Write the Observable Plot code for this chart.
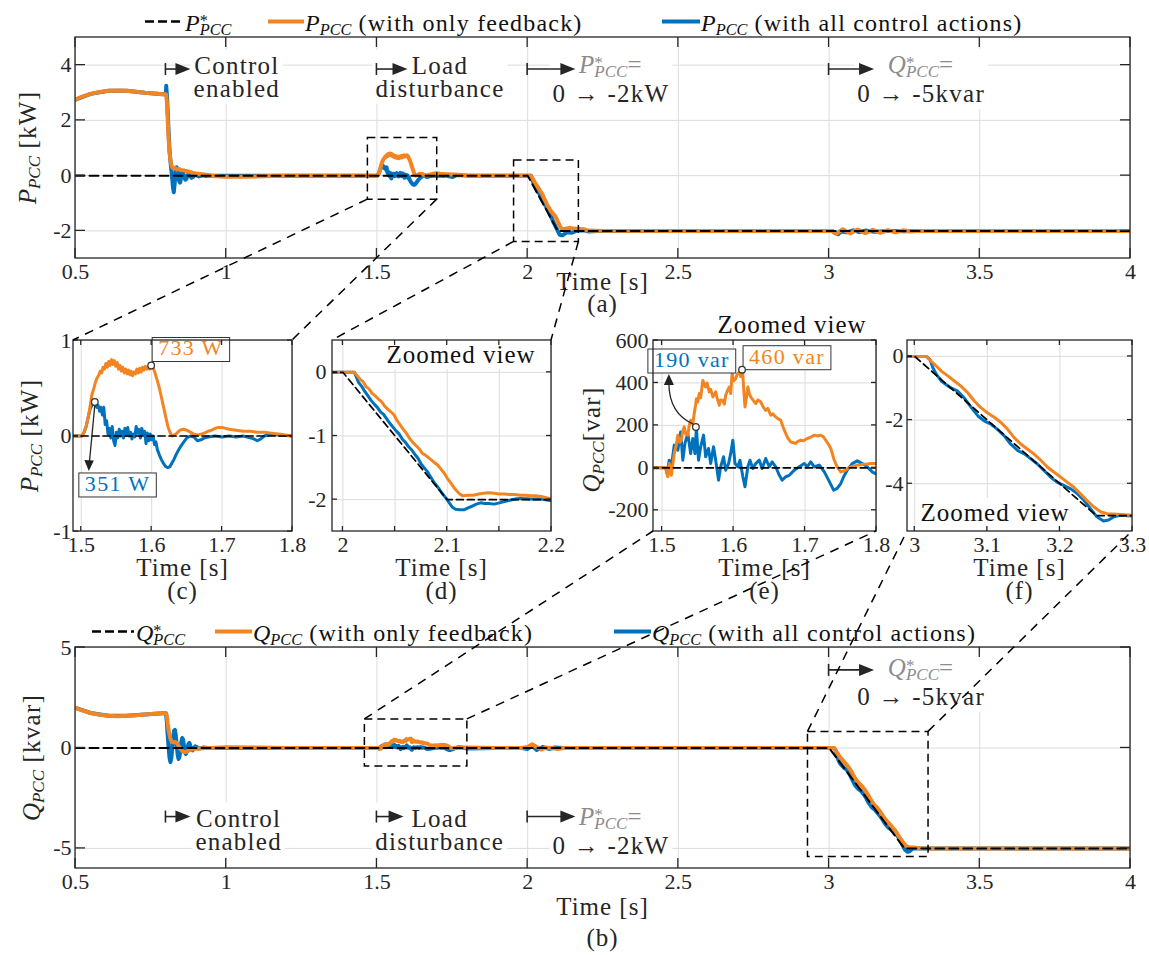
<!DOCTYPE html>
<html>
<head>
<meta charset="utf-8">
<script src="https://cdn.jsdelivr.net/npm/d3@7"></script>
<script src="https://cdn.jsdelivr.net/npm/@observablehq/plot@0.6"></script>
<style>
  body { margin: 0; background: #fff; }
  #fig { position: relative; width: 1149px; height: 955px; background: #fff; overflow: hidden; }
  #fig > svg { position: absolute; left: 0; top: 0; background: transparent !important; }
</style>
</head>
<body>
<div id="fig"></div>
<script>
// ---------------- data (time in s) ----------------
// set-points
const pRef = [[0.5, 0], [2.0, 0], [2.1, -2], [4.0, -2]];   // kW
const qRef = [[0.5, 0], [3.0, 0], [3.25, -5], [4.0, -5]];  // kvar

// P_PCC with only feedback (kW)
const pFbStart = [[0.5,2.75],[0.52,2.85],[0.55,2.96],[0.58,3.03],[0.61,3.07],[0.64,3.08],[0.67,3.07],[0.7,3.04],[0.73,3.0],[0.76,2.97],[0.79,2.95],[0.8,2.95],[0.803,2.7],[0.806,2.0],[0.809,1.3],[0.812,0.85],[0.815,0.55],[0.818,0.38],[0.821,0.3],[0.825,0.26],[0.83,0.28],[0.836,0.22],[0.842,0.25],[0.85,0.2],[0.86,0.19],[0.87,0.16],[0.88,0.13],[0.89,0.1],[0.9,0.08],[0.92,0.05],[0.94,0.02],[0.96,-0.01],[0.98,-0.03],[1.0,-0.04],[1.05,-0.04],[1.1,-0.03],[1.15,-0.01],[1.2,0],[1.35,0],[1.488,0]];
const pFbLoad = [[1.489,0],[1.495,0],[1.501,0],[1.504,0.04],[1.507,0.1],[1.51,0.2],[1.513,0.33],[1.515,0.43],[1.518,0.5],[1.52,0.56],[1.522,0.6],[1.525,0.64],[1.527,0.68],[1.529,0.66],[1.531,0.72],[1.533,0.7],[1.535,0.76],[1.537,0.72],[1.539,0.78],[1.541,0.74],[1.543,0.8],[1.545,0.75],[1.547,0.79],[1.549,0.73],[1.551,0.77],[1.553,0.7],[1.555,0.74],[1.557,0.68],[1.559,0.72],[1.561,0.66],[1.563,0.7],[1.565,0.65],[1.567,0.69],[1.569,0.64],[1.571,0.68],[1.573,0.63],[1.575,0.67],[1.577,0.65],[1.579,0.7],[1.581,0.66],[1.583,0.71],[1.585,0.67],[1.587,0.72],[1.589,0.69],[1.591,0.73],[1.593,0.7],[1.595,0.72],[1.597,0.7],[1.599,0.72],[1.6,0.733],[1.602,0.71],[1.604,0.68],[1.606,0.63],[1.608,0.58],[1.611,0.5],[1.614,0.4],[1.617,0.3],[1.62,0.2],[1.623,0.1],[1.626,0.04],[1.629,0.0],[1.632,0.01],[1.636,0.03],[1.64,0.06],[1.645,0.07],[1.65,0.06],[1.655,0.04],[1.66,0.02],[1.665,0.01],[1.67,0.02],[1.675,0.03],[1.68,0.05],[1.685,0.06],[1.69,0.08],[1.695,0.09],[1.7,0.09],[1.705,0.08],[1.71,0.07],[1.72,0.06],[1.73,0.05],[1.74,0.05],[1.75,0.04],[1.76,0.04],[1.77,0.03],[1.78,0.02],[1.79,0.01],[1.8,0.0]];
const pFbRamp = [[1.99,0],[2.0,0],[2.011,0],[2.014,-0.06],[2.017,-0.12],[2.019,-0.14],[2.022,-0.22],[2.025,-0.26],[2.028,-0.33],[2.031,-0.37],[2.034,-0.42],[2.037,-0.46],[2.04,-0.53],[2.043,-0.58],[2.046,-0.62],[2.049,-0.67],[2.052,-0.76],[2.055,-0.83],[2.058,-0.9],[2.061,-0.96],[2.064,-1.04],[2.067,-1.1],[2.07,-1.15],[2.073,-1.2],[2.076,-1.27],[2.079,-1.3],[2.082,-1.34],[2.085,-1.38],[2.088,-1.42],[2.091,-1.46],[2.094,-1.52],[2.097,-1.58],[2.1,-1.66],[2.103,-1.73],[2.106,-1.8],[2.109,-1.86],[2.112,-1.91],[2.115,-1.94],[2.12,-1.93],[2.125,-1.93],[2.13,-1.91],[2.135,-1.9],[2.14,-1.89],[2.145,-1.9],[2.15,-1.91],[2.155,-1.91],[2.16,-1.92],[2.165,-1.92],[2.17,-1.93],[2.175,-1.93],[2.18,-1.94],[2.185,-1.94],[2.19,-1.95],[2.195,-1.97],[2.2,-1.99]];
const pFbEnd = [[2.25,-2.0],[2.5,-2.0],[3.0,-2.0],[3.01,-2.0],[3.025,-2.1],[3.045,-1.94],[3.07,-2.09],[3.095,-1.95],[3.12,-2.08],[3.145,-1.96],[3.17,-2.07],[3.195,-1.97],[3.22,-2.05],[3.245,-1.98],[3.27,-2.02],[3.3,-2.0],[4.0,-2.0]];

// P_PCC with all control actions (kW)
const pAllStart = [[0.5,2.75],[0.55,2.96],[0.61,3.07],[0.67,3.07],[0.73,3.0],[0.79,2.95],[0.8,2.95],[0.801,3.25],[0.804,2.8],[0.808,1.8],[0.812,0.9],[0.816,0.4],[0.82,0.0],[0.823,-0.4],[0.826,-0.6],[0.829,-0.3],[0.832,0.1],[0.835,0.3],[0.838,0.25],[0.841,0.0],[0.844,-0.2],[0.847,-0.25],[0.85,-0.1],[0.853,0.1],[0.856,0.12],[0.86,0.0],[0.864,-0.15],[0.868,-0.12],[0.872,0.02],[0.876,0.08],[0.88,0.0],[0.885,-0.08],[0.89,-0.05],[0.895,0.03],[0.9,0.02],[0.91,-0.03],[0.92,0.01],[0.93,-0.01],[0.95,0.0],[1.2,0],[1.488,0]];
const pAllLoad = [[1.489,0],[1.501,0],[1.504,0.04],[1.507,0.1],[1.51,0.2],[1.513,0.29],[1.516,0.33],[1.518,0.34],[1.52,0.351],[1.522,0.3],[1.524,0.32],[1.526,0.26],[1.528,0.3],[1.53,0.22],[1.532,0.3],[1.534,0.12],[1.536,0.16],[1.538,0.02],[1.54,0.08],[1.542,-0.02],[1.544,0.1],[1.546,-0.05],[1.548,-0.1],[1.55,0.04],[1.552,-0.02],[1.554,0.07],[1.556,0.0],[1.558,0.05],[1.56,-0.02],[1.562,0.08],[1.564,0.01],[1.566,0.09],[1.568,0.0],[1.57,0.04],[1.572,-0.03],[1.574,0.02],[1.576,-0.01],[1.578,0.1],[1.58,0.03],[1.582,0.07],[1.584,-0.02],[1.586,0.08],[1.588,0.02],[1.59,0.05],[1.592,-0.08],[1.594,0.03],[1.596,-0.05],[1.598,0.02],[1.6,-0.04],[1.602,0.0],[1.604,-0.09],[1.606,-0.06],[1.608,-0.14],[1.611,-0.2],[1.614,-0.25],[1.617,-0.29],[1.62,-0.32],[1.623,-0.33],[1.626,-0.32],[1.629,-0.28],[1.632,-0.24],[1.635,-0.19],[1.638,-0.15],[1.642,-0.1],[1.646,-0.06],[1.65,-0.02],[1.655,0.0],[1.66,-0.01],[1.665,-0.05],[1.67,-0.04],[1.675,-0.02],[1.68,-0.01],[1.69,0.0],[1.7,-0.01],[1.71,0.0],[1.72,-0.01],[1.73,0.0],[1.74,-0.02],[1.745,-0.03],[1.75,-0.05],[1.755,-0.03],[1.76,0.0],[1.765,0.01],[1.77,0.02],[1.78,0.01],[1.8,0.0]];
const pAllRamp = [[1.99,0],[2.011,0],[2.013,-0.08],[2.015,-0.16],[2.018,-0.22],[2.021,-0.3],[2.024,-0.37],[2.027,-0.44],[2.03,-0.5],[2.033,-0.55],[2.036,-0.62],[2.039,-0.66],[2.042,-0.73],[2.045,-0.8],[2.048,-0.86],[2.051,-0.92],[2.054,-0.97],[2.057,-1.05],[2.06,-1.1],[2.063,-1.17],[2.066,-1.22],[2.069,-1.29],[2.072,-1.35],[2.075,-1.44],[2.078,-1.5],[2.081,-1.56],[2.084,-1.64],[2.087,-1.72],[2.09,-1.78],[2.093,-1.85],[2.096,-1.92],[2.099,-1.98],[2.102,-2.05],[2.105,-2.12],[2.108,-2.15],[2.112,-2.16],[2.116,-2.16],[2.12,-2.13],[2.124,-2.1],[2.128,-2.07],[2.132,-2.05],[2.136,-2.06],[2.14,-2.06],[2.145,-2.07],[2.15,-2.05],[2.155,-2.03],[2.16,-2.01],[2.165,-1.99],[2.17,-1.98],[2.18,-1.99],[2.19,-1.99],[2.2,-2.02]];
const pAllEnd = [[2.25,-2.0],[3.0,-2.0],[3.01,-2.0],[3.02,-2.08],[3.03,-2.12],[3.04,-2.02],[3.06,-2.05],[3.08,-1.98],[3.1,-2.04],[3.12,-1.99],[3.15,-2.03],[3.2,-2.0],[3.25,-2.01],[3.3,-2.0],[4.0,-2.0]];

// Q_PCC with only feedback (kvar; load window in var)
const qFbStart = [[0.5,2.0],[0.52,1.88],[0.55,1.74],[0.58,1.65],[0.61,1.6],[0.64,1.58],[0.67,1.6],[0.7,1.63],[0.73,1.67],[0.76,1.7],[0.79,1.73],[0.8,1.73],[0.803,1.6],[0.806,1.2],[0.81,0.8],[0.814,0.5],[0.818,0.35],[0.824,0.28],[0.83,0.3],[0.836,0.25],[0.842,0.1],[0.848,-0.05],[0.854,-0.15],[0.86,-0.2],[0.866,-0.2],[0.872,-0.15],[0.88,-0.1],[0.89,-0.06],[0.9,-0.04],[0.92,-0.02],[0.95,0.0],[1.0,0.03],[1.1,0.02],[1.2,0.0],[1.488,0]];
const qFbLoadVar = [[1.488,0],[1.505,0],[1.508,-42],[1.51,20],[1.513,-35],[1.517,67],[1.52,110],[1.522,154],[1.525,120],[1.527,130],[1.529,175],[1.531,193],[1.533,160],[1.536,154],[1.538,200],[1.54,224],[1.543,205],[1.545,256],[1.547,300],[1.548,326],[1.55,310],[1.552,350],[1.554,330],[1.557,412],[1.559,395],[1.561,381],[1.563,400],[1.566,358],[1.568,370],[1.571,334],[1.573,345],[1.575,358],[1.577,330],[1.58,295],[1.582,320],[1.585,318],[1.587,300],[1.589,342],[1.591,360],[1.594,381],[1.596,350],[1.598,444],[1.6,410],[1.603,420],[1.605,440],[1.608,452],[1.61,430],[1.6126,460],[1.614,380],[1.616,287],[1.618,330],[1.62,381],[1.622,350],[1.624,334],[1.627,320],[1.631,303],[1.634,320],[1.638,311],[1.641,290],[1.645,271],[1.648,280],[1.652,248],[1.655,255],[1.659,240],[1.662,232],[1.666,224],[1.669,195],[1.673,162],[1.676,140],[1.68,122],[1.684,118],[1.687,115],[1.69,125],[1.694,130],[1.698,128],[1.703,138],[1.708,145],[1.713,154],[1.718,150],[1.722,154],[1.726,145],[1.729,130],[1.733,110],[1.736,91],[1.738,70],[1.74,44],[1.743,20],[1.745,5],[1.748,-10],[1.75,-19],[1.754,-15],[1.757,-11],[1.76,-2],[1.764,5],[1.768,8],[1.773,13],[1.778,15],[1.782,17],[1.787,18],[1.792,20],[1.796,20],[1.8,20]];
const qFbMid = [[1.9,0.0],[1.98,0.0],[2.0,0.05],[2.015,0.18],[2.03,0.05],[2.045,-0.08],[2.06,0.02],[2.08,0.0],[2.1,-0.05],[2.12,0.0],[2.2,0.0],[2.5,0.0],[2.99,0.0]];
const qFbRamp = [[2.995,0],[3.0,0],[3.016,0],[3.023,-0.16],[3.03,-0.31],[3.037,-0.47],[3.046,-0.62],[3.055,-0.78],[3.064,-0.94],[3.073,-1.14],[3.082,-1.4],[3.091,-1.61],[3.1,-1.77],[3.11,-1.92],[3.119,-2.08],[3.128,-2.29],[3.137,-2.55],[3.146,-2.75],[3.155,-2.91],[3.164,-3.06],[3.174,-3.27],[3.183,-3.48],[3.192,-3.64],[3.201,-3.79],[3.21,-3.95],[3.219,-4.1],[3.228,-4.31],[3.237,-4.52],[3.247,-4.73],[3.256,-4.88],[3.265,-4.94],[3.279,-4.96],[3.3,-4.99]];
const qFbEnd = [[3.35,-5.0],[4.0,-5.0]];

// Q_PCC with all control actions (kvar; load window in var)
const qAllStart = [[0.5,2.0],[0.55,1.74],[0.61,1.6],[0.67,1.6],[0.73,1.67],[0.79,1.73],[0.8,1.73],[0.803,1.3],[0.806,0.6],[0.809,0.0],[0.812,-0.5],[0.815,-0.7],[0.818,-0.5],[0.821,0.0],[0.824,0.5],[0.827,0.85],[0.83,0.9],[0.833,0.6],[0.836,0.1],[0.839,-0.35],[0.842,-0.55],[0.845,-0.45],[0.848,-0.1],[0.851,0.3],[0.854,0.5],[0.857,0.4],[0.86,0.1],[0.863,-0.2],[0.866,-0.3],[0.869,-0.2],[0.872,0.05],[0.875,0.2],[0.878,0.25],[0.881,0.1],[0.885,-0.1],[0.889,-0.12],[0.893,0.0],[0.897,0.08],[0.902,0.05],[0.908,-0.03],[0.915,-0.02],[0.925,0.02],[0.94,0.0],[1.2,0],[1.488,0]];
const qAllLoadVar = [[1.488,0],[1.505,0],[1.507,-27],[1.51,36],[1.513,5],[1.517,107],[1.522,83],[1.526,169],[1.529,36],[1.532,115],[1.536,162],[1.54,67],[1.543,138],[1.546,67],[1.548,190],[1.551,36],[1.554,99],[1.558,154],[1.561,52],[1.565,91],[1.568,20],[1.572,99],[1.575,36],[1.579,-58],[1.582,5],[1.586,52],[1.589,-11],[1.593,20],[1.596,67],[1.599,130],[1.602,20],[1.606,5],[1.609,36],[1.613,-42],[1.616,-89],[1.62,5],[1.623,36],[1.627,-3],[1.631,20],[1.636,36],[1.64,-3],[1.645,44],[1.65,5],[1.654,28],[1.659,5],[1.664,-35],[1.668,-58],[1.673,-42],[1.678,-35],[1.685,-11],[1.692,5],[1.699,20],[1.703,5],[1.708,28],[1.713,5],[1.72,13],[1.727,-19],[1.733,-58],[1.74,-105],[1.745,-97],[1.75,-74],[1.754,-42],[1.759,-11],[1.766,20],[1.773,33],[1.78,20],[1.787,5],[1.794,-19],[1.8,-30]];
const qAllMid = [[1.9,0.0],[1.98,0.0],[2.0,-0.05],[2.015,0.1],[2.03,-0.1],[2.05,0.05],[2.07,-0.05],[2.09,0.02],[2.12,0.0],[2.5,0.0],[2.99,0.0]];
const qAllRamp = [[2.995,0],[3.0,0],[3.016,0],[3.021,-0.1],[3.025,-0.36],[3.03,-0.57],[3.037,-0.78],[3.043,-0.88],[3.05,-0.99],[3.059,-1.09],[3.068,-1.3],[3.078,-1.61],[3.087,-1.87],[3.096,-2.03],[3.105,-2.13],[3.114,-2.29],[3.123,-2.49],[3.132,-2.75],[3.142,-2.96],[3.151,-3.06],[3.16,-3.22],[3.169,-3.38],[3.178,-3.58],[3.187,-3.79],[3.196,-3.95],[3.205,-4.05],[3.215,-4.16],[3.224,-4.31],[3.233,-4.52],[3.242,-4.78],[3.251,-5.04],[3.26,-5.17],[3.267,-5.14],[3.274,-5.04],[3.283,-4.99],[3.3,-5.01]];
const qAllEnd = [[3.35,-5.0],[4.0,-5.0]];

// zoom windows marked on the overview plots
const boxesA = [{x1: 1.47, x2: 1.70, y1: -0.87, y2: 1.36}, {x1: 1.955, x2: 2.17, y1: -2.4, y2: 0.55}];
const boxesB = [{x1: 1.46, x2: 1.80, y1: -0.92, y2: 1.42}, {x1: 2.93, x2: 3.33, y1: -5.43, y2: 0.8}];

// data tips (value in kW for P, var for Q)
const tipsP = [{t: 1.6, v: 0.733, series: "fb"}, {t: 1.52, v: 0.351, series: "all"}];
const tipsQ = [{t: 1.548, v: 190, series: "all"}, {t: 1.6126, v: 460, series: "fb"}];

// event annotations: arrow from t0 to t1 at y, text centred at tx with first baseline ty
const pStarEq = [{t: "P", it: true}, {sup: "*", sub: "PCC"}, {t: "="}];
const qStarEq = [{t: "Q", it: true}, {sup: "*", sub: "PCC"}, {t: "="}];
const eventsA = [
  {t0: 0.8, t1: 0.883, y: 3.84, tx: 1.037, ty: 3.66, kind: "plain", lines: [[{t: "Control"}], [{t: "enabled"}]]},
  {t0: 1.5, t1: 1.603, y: 3.84, tx: 1.711, ty: 3.66, kind: "plain", lines: [[{t: "Load"}], [{t: "disturbance"}]]},
  {t0: 2.0, t1: 2.16, y: 3.84, tx: 2.278, ty: 3.70, kind: "math", lines: [pStarEq, [{t: "0 → -2kW"}]]},
  {t0: 3.0, t1: 3.151, y: 3.84, tx: 3.307, ty: 3.70, kind: "math", lines: [qStarEq, [{t: "0 → -5kvar"}]]}
];
const eventsB = [
  {t0: 0.8, t1: 0.883, y: -3.44, tx: 1.043, ty: -3.94, kind: "plain", lines: [[{t: "Control"}], [{t: "enabled"}]]},
  {t0: 1.5, t1: 1.59, y: -3.44, tx: 1.71, ty: -3.94, kind: "plain", lines: [[{t: "Load"}], [{t: "disturbance"}]]},
  {t0: 2.0, t1: 2.16, y: -3.44, tx: 2.278, ty: -3.86, kind: "math", lines: [pStarEq, [{t: "0 → -2kW"}]]},
  {t0: 3.0, t1: 3.151, y: 3.86, tx: 3.307, ty: 3.56, kind: "math", lines: [qStarEq, [{t: "0 → -5kvar"}]]}
];

// ---------------- assembled series ----------------
const toKvar = s => s.map(([t, v]) => [t, v / 1000]);
const pFb = [...pFbStart, ...pFbLoad, ...pFbRamp, ...pFbEnd];
const pAll = [...pAllStart, ...pAllLoad, ...pAllRamp, ...pAllEnd];
const qFb = [...qFbStart, ...toKvar(qFbLoadVar), ...qFbMid, ...qFbRamp, ...qFbEnd];
const qAll = [...qAllStart, ...toKvar(qAllLoadVar), ...qAllMid, ...qAllRamp, ...qAllEnd];

// ---------------- look ----------------
const W = 1149, H = 955;
const SERIF = "'Liberation Serif', 'Times New Roman', serif";
const INK = "#262626", GREY = "#8c8c8c";
const ORANGE = "#F28522", BLUE = "#0072BD", GRID = "#dcdcdc";

const panelCfg = {
  a: {frame: [75, 37, 1130, 258], x: [0.5, 4], y: [-3, 5], xTicks: [0.5, 1, 1.5, 2, 2.5, 3, 3.5, 4], yTicks: [-2, 0, 2, 4], tickLen: 10, xPad: 5, yPad: 4, lw: 4, rw: 2, dash: "9,5"},
  b: {frame: [75, 647, 1130, 868], x: [0.5, 4], y: [-6, 5], xTicks: [0.5, 1, 1.5, 2, 2.5, 3, 3.5, 4], yTicks: [-5, 0, 5], tickLen: 10, xPad: 5, yPad: 4, lw: 4, rw: 2, dash: "9,5"},
  c: {frame: [73, 340, 292, 531], x: [1.489, 1.8], y: [-1, 1], xTicks: [1.5, 1.6, 1.7, 1.8], yTicks: [-1, 0, 1], tickLen: 5, xPad: 5, yPad: 2, lw: 3, rw: 1.7, dash: "7,4", zoom: true},
  d: {frame: [332, 340, 551, 531], x: [1.99, 2.2], y: [-2.5, 0.5], xTicks: [2, 2.05, 2.1, 2.15, 2.2], xLabels: [2, 2.1, 2.2], yTicks: [-2, -1, 0], tickLen: 5, xPad: 5, yPad: 6, lw: 3, rw: 1.7, dash: "7,4", zoom: true},
  e: {frame: [653, 340, 876, 531], x: [1.488, 1.8], y: [-300, 600], xTicks: [1.5, 1.6, 1.7, 1.8], yTicks: [-200, 0, 200, 400, 600], tickLen: 5, xPad: 5, yPad: 5, lw: 3, rw: 1.7, dash: "7,4", zoom: true},
  f: {frame: [907, 340, 1132, 531], x: [2.99, 3.3], y: [-5.5, 0.5], xTicks: [3, 3.1, 3.2, 3.3], yTicks: [-4, -2, 0], tickLen: 5, xPad: 5, yPad: 4, lw: 3, rw: 1.7, dash: "7,4", zoom: true}
};

const fig = d3.select("#fig");

// text with italic symbols, stacked super/subscripts
function rich(parent, x, y, parts, o = {}) {
  const size = o.size || 24;
  const text = parent.append("text")
    .attr("x", x).attr("y", y)
    .attr("font-family", SERIF)
    .attr("font-size", size)
    .attr("fill", o.fill || INK)
    .attr("text-anchor", o.anchor || "start");
  let shift = 0;
  for (const p of parts) {
    if (p.sub !== undefined || p.sup !== undefined) {
      const small = size * 0.68;
      let supLen = 0;
      if (p.sup) {
        const up = -0.2 * size;
        const s = text.append("tspan").text(p.sup).attr("font-size", small).attr("dy", up - shift);
        shift = up;
        supLen = s.node().getComputedTextLength();
      }
      if (p.sub) {
        const down = 0.17 * size;
        const s = text.append("tspan").text(p.sub).attr("font-size", small)
          .attr("font-style", "italic").attr("dy", down - shift);
        if (supLen) s.attr("dx", -supLen);
        shift = down;
      }
    } else {
      const s = text.append("tspan").text(p.t).attr("dy", -shift);
      shift = 0;
      if (p.it) s.attr("font-style", "italic");
      else s.attr("letter-spacing", "0.05em");
    }
  }
  return text;
}

function makePanel(cfg, extra) {
  const [l, t, r, b] = cfg.frame;
  const inX = d => d[0] >= cfg.x[0] - 0.003 && d[0] <= cfg.x[1] + 0.003;
  const k = cfg.k || 1;
  const tickText = {tickSize: 0, tickFormat: d => String(d), fontSize: 22, fontFamily: SERIF, color: INK, label: null};
  const svg = Plot.plot({
    width: W, height: H,
    marginLeft: l, marginTop: t, marginRight: W - r, marginBottom: H - b,
    style: {background: "transparent", fontFamily: SERIF, overflow: "visible"},
    x: {domain: cfg.x},
    y: {domain: cfg.y},
    marks: [
      Plot.gridX(cfg.xTicks, {stroke: GRID, strokeOpacity: 1, strokeWidth: 1}),
      Plot.gridY(cfg.yTicks, {stroke: GRID, strokeOpacity: 1, strokeWidth: 1}),
      Plot.axisX(cfg.xLabels || cfg.xTicks, {...tickText, tickPadding: cfg.xPad}),
      Plot.axisY(cfg.yTicks, {...tickText, tickPadding: cfg.yPad}),
      Plot.line(cfg.all.filter(inX), {x: d => d[0], y: d => d[1] * k, stroke: BLUE, strokeWidth: cfg.lw, clip: true}),
      Plot.line(cfg.fb.filter(inX), {x: d => d[0], y: d => d[1] * k, stroke: ORANGE, strokeWidth: cfg.lw, clip: true}),
      Plot.line(cfg.ref, {x: d => d[0], y: d => d[1] * k, stroke: "#000", strokeWidth: cfg.rw, strokeDasharray: cfg.dash, clip: true}),
      ...(extra || [])
    ]
  });
  fig.node().appendChild(svg);
  const g = d3.select(svg);
  g.selectAll("text").attr("font-family", SERIF);
  // keep the traces inside the frame
  const id = "clip-" + Math.random().toString(36).slice(2);
  g.append("defs").append("clipPath").attr("id", id)
    .append("rect").attr("x", l).attr("y", t).attr("width", r - l).attr("height", b - t);
  g.selectAll("g[aria-label='line']").attr("clip-path", `url(#${id})`);
  return {svg, g, cfg, X: v => svg.scale("x").apply(v), Y: v => svg.scale("y").apply(v)};
}

function drawFrame(p) {
  const [l, t, r, b] = p.cfg.frame;
  const len = p.cfg.tickLen;
  const g = p.g.append("g").attr("stroke", INK).attr("stroke-width", 1.3).attr("fill", "none");
  for (const v of p.cfg.xTicks) {
    const x = p.X(v);
    g.append("line").attr("x1", x).attr("x2", x).attr("y1", b).attr("y2", b - len);
    g.append("line").attr("x1", x).attr("x2", x).attr("y1", t).attr("y2", t + len);
  }
  for (const v of p.cfg.yTicks) {
    const y = p.Y(v);
    g.append("line").attr("x1", l).attr("x2", l + len).attr("y1", y).attr("y2", y);
    g.append("line").attr("x1", r).attr("x2", r - len).attr("y1", y).attr("y2", y);
  }
  g.append("rect").attr("x", l).attr("y", t).attr("width", r - l).attr("height", b - t);
}

const gaps = {plain: 23, math: 29};
function drawEvents(p, events) {
  const g = p.g.append("g");
  for (const e of events) {
    const tg = g.append("g");
    e.lines.forEach((parts, i) => rich(tg, p.X(e.tx), p.Y(e.ty) + i * gaps[e.kind], parts,
      {size: 25, anchor: "middle", fill: e.kind === "math" && i === 0 ? GREY : INK}));
    const bb = tg.node().getBBox();
    tg.insert("rect", ":first-child").attr("x", bb.x - 3).attr("y", bb.y - 2)
      .attr("width", bb.width + 6).attr("height", bb.height + 4).attr("fill", "#fff");
    const x0 = p.X(e.t0), x1 = p.X(e.t1), y = p.Y(e.y);
    const ag = g.append("g").attr("stroke", INK).attr("stroke-width", 1.6);
    ag.append("line").attr("x1", x0).attr("x2", x0).attr("y1", y - 6).attr("y2", y + 6);
    ag.append("line").attr("x1", x0).attr("x2", x1 - 10).attr("y1", y).attr("y2", y);
    g.append("path").attr("d", `M${x1},${y}L${x1 - 15},${y - 6}L${x1 - 15},${y + 6}Z`).attr("fill", INK);
  }
}

function boxedLabel(g, text, color, bx, by) {
  const t = g.append("text").attr("font-family", SERIF).attr("font-size", 22)
    .attr("text-anchor", "start")
    .attr("letter-spacing", "0.06em").attr("fill", color).text(text);
  const w = t.node().getComputedTextLength() + 12, h = 24;
  t.attr("x", bx + 6).attr("y", by + h - 6);
  g.insert("rect", () => t.node()).attr("x", bx).attr("y", by).attr("width", w).attr("height", h)
    .attr("fill", "#fff").attr("stroke", "#333").attr("stroke-width", 1);
  return {w, h};
}

function marker(g, x, y) {
  g.append("circle").attr("cx", x).attr("cy", y).attr("r", 3.3)
    .attr("fill", "#fff").attr("stroke", "#333").attr("stroke-width", 1.3);
}

function zoomedView(g, x, y) {
  const t = g.append("text").attr("x", x).attr("y", y).attr("text-anchor", "middle")
    .attr("font-family", SERIF).attr("font-size", 25).attr("letter-spacing", "0.04em")
    .attr("fill", "#111").text("Zoomed view");
  const bb = t.node().getBBox();
  g.insert("rect", () => t.node()).attr("x", bb.x - 3).attr("y", bb.y - 1)
    .attr("width", bb.width + 6).attr("height", bb.height + 2).attr("fill", "#fff");
}

// ---------------- panels ----------------
const rectOpts = {x1: "x1", x2: "x2", y1: "y1", y2: "y2", fill: "none", stroke: "#000", strokeWidth: 1.5, strokeDasharray: "8,5"};

const pa = makePanel({...panelCfg.a, fb: pFb, all: pAll, ref: pRef}, [Plot.rect(boxesA, rectOpts)]);
const pb = makePanel({...panelCfg.b, fb: qFb, all: qAll, ref: qRef}, [Plot.rect(boxesB, rectOpts)]);
const pc = makePanel({...panelCfg.c, fb: pFb, all: pAll, ref: pRef});
const pd = makePanel({...panelCfg.d, fb: pFb, all: pAll, ref: pRef});
const pe = makePanel({...panelCfg.e, fb: qFb, all: qAll, ref: qRef, k: 1000});
const pf = makePanel({...panelCfg.f, fb: qFb, all: qAll, ref: qRef});

drawEvents(pa, eventsA);
drawEvents(pb, eventsB);

// "Zoomed view" captions inside (d) and (f)
zoomedView(pd.g.append("g"), pd.cfg.frame[2] - 90, pd.cfg.frame[1] + 23);
zoomedView(pf.g.append("g"), pf.cfg.frame[0] + 88, pf.cfg.frame[3] - 10);

// data tips in (c): peak powers
{
  const g = pc.g.append("g");
  const [tf, ta] = tipsP;
  const mf = [pc.X(tf.t), pc.Y(tf.v)], ma = [pc.X(ta.t), pc.Y(ta.v)];
  boxedLabel(g, `${Math.round(tf.v * 1000)} W`, ORANGE, mf[0] + 1, mf[1] - 28);
  const bx = ma[0] - 16, by = ma[1] + 71;
  boxedLabel(g, `${Math.round(ta.v * 1000)} W`, BLUE, bx, by);
  const ex = ma[0] - 6, ey = by - 2;
  g.append("line").attr("x1", ma[0]).attr("y1", ma[1] + 3).attr("x2", ex + 0.6).attr("y2", ey - 9)
    .attr("stroke", "#222").attr("stroke-width", 1.3);
  g.append("path").attr("d", `M${ex},${ey}L${ex - 4.5},${ey - 11}L${ex + 5},${ey - 10.5}Z`).attr("fill", "#222");
  marker(g, ...mf);
  marker(g, ...ma);
}
// data tips in (e): peak reactive powers
{
  const g = pe.g.append("g");
  const [ta, tf] = tipsQ;
  const ma = [pe.X(ta.t), pe.Y(ta.v)], mf = [pe.X(tf.t), pe.Y(tf.v)];
  const h = 24;
  const bx = ma[0] - 48, by = ma[1] - 54 - h;
  boxedLabel(g, `${ta.v} var`, BLUE, bx, by);
  const tipX = bx + 21, tipY = by + h + 1;
  g.append("path").attr("d", `M${ma[0] - 3},${ma[1] - 3}Q${tipX},${ma[1] - 14} ${tipX},${tipY + 9}`)
    .attr("fill", "none").attr("stroke", "#222").attr("stroke-width", 1.3);
  g.append("path").attr("d", `M${tipX},${tipY}L${tipX - 5},${tipY + 11}L${tipX + 5},${tipY + 11}Z`).attr("fill", "#222");
  boxedLabel(g, `${tf.v} var`, ORANGE, mf[0] + 1, mf[1] - h);
  marker(g, ...ma);
  marker(g, ...mf);
}

for (const p of [pa, pb, pc, pd, pe, pf]) drawFrame(p);

// ---------------- overlay: legends, labels, zoom connectors ----------------
const ov = fig.append("svg").attr("width", W).attr("height", H)
  .style("position", "absolute").style("left", "0px").style("top", "0px").style("pointer-events", "none");

function legendRow(y, sym, items) {
  const [dash, fb, all] = items;
  ov.append("line").attr("x1", dash[0]).attr("x2", dash[1]).attr("y1", y - 9.5).attr("y2", y - 9.5)
    .attr("stroke", "#000").attr("stroke-width", 2.5).attr("stroke-dasharray", "9,4");
  rich(ov, dash[1] + 2, y, [{t: sym, it: true}, {sup: "*", sub: "PCC"}], {size: 24, fill: "#111"});
  ov.append("line").attr("x1", fb[0]).attr("x2", fb[1]).attr("y1", y - 9.5).attr("y2", y - 9.5)
    .attr("stroke", ORANGE).attr("stroke-width", 4);
  rich(ov, fb[1] + 1, y, [{t: sym, it: true}, {sub: "PCC"}, {t: " (with only feedback)"}], {size: 24, fill: "#111"});
  ov.append("line").attr("x1", all[0]).attr("x2", all[1]).attr("y1", y - 9.5).attr("y2", y - 9.5)
    .attr("stroke", BLUE).attr("stroke-width", 4);
  rich(ov, all[1] + 1, y, [{t: sym, it: true}, {sub: "PCC"}, {t: " (with all control actions)"}], {size: 24, fill: "#111"});
}
legendRow(31, "P", [[145, 183], [268, 304], [662, 700]]);
legendRow(641, "Q", [[92, 134], [215, 252], [614, 651]]);

function yLabel(x, y, parts) {
  const g = ov.append("g").attr("transform", `translate(${x},${y}) rotate(-90)`);
  rich(g, 0, 0, parts, {size: 25, anchor: "middle"});
}
const fc = p => (p.cfg.frame[0] + p.cfg.frame[2]) / 2;
const fm = p => (p.cfg.frame[1] + p.cfg.frame[3]) / 2;
yLabel(36, fm(pa), [{t: "P", it: true}, {sub: "PCC"}, {t: " [kW]"}]);
yLabel(40, fm(pb), [{t: "Q", it: true}, {sub: "PCC"}, {t: " [kvar]"}]);
yLabel(38, fm(pc), [{t: "P", it: true}, {sub: "PCC"}, {t: " [kW]"}]);
yLabel(600, fm(pe) + 4, [{t: "Q", it: true}, {sub: "PCC"}, {t: "[var]"}]);

function caption(x, y, s) {
  ov.append("text").attr("x", x).attr("y", y).attr("text-anchor", "middle")
    .attr("font-family", SERIF).attr("font-size", 25).attr("letter-spacing", "0.04em")
    .attr("fill", INK).text(s);
}
caption(fc(pa), 290, "Time [s]");
caption(fc(pa), 312, "(a)");
caption(fc(pb), 915, "Time [s]");
caption(fc(pb), 946, "(b)");
for (const [p, s] of [[pc, "(c)"], [pd, "(d)"], [pe, "(e)"], [pf, "(f)"]]) {
  caption(fc(p), 576, "Time [s]");
  caption(fc(p), 599, s);
}
ov.append("text").attr("x", pe.cfg.frame[2] - 84).attr("y", pe.cfg.frame[1] - 7).attr("text-anchor", "middle")
  .attr("font-family", SERIF).attr("font-size", 25).attr("letter-spacing", "0.04em")
  .attr("fill", "#111").text("Zoomed view");

// dashed connectors from the marked windows to the zoomed panels
const at = (p, x, y) => [p.X(x), p.Y(y)];
const links = [
  [at(pa, boxesA[0].x1, boxesA[0].y1), at(pc, pc.cfg.x[0], pc.cfg.y[1])],
  [at(pa, boxesA[0].x2, boxesA[0].y1), at(pc, pc.cfg.x[1], pc.cfg.y[1])],
  [at(pa, boxesA[1].x1, boxesA[1].y1), at(pd, pd.cfg.x[0], pd.cfg.y[1])],
  [at(pa, boxesA[1].x2, boxesA[1].y1), at(pd, pd.cfg.x[1], pd.cfg.y[1])],
  [at(pb, boxesB[0].x1, boxesB[0].y2), at(pe, pe.cfg.x[0], pe.cfg.y[0])],
  [at(pb, boxesB[0].x2, boxesB[0].y2), at(pe, pe.cfg.x[1], pe.cfg.y[0])],
  [at(pb, boxesB[1].x1, boxesB[1].y2), at(pf, pf.cfg.x[0], pf.cfg.y[0])],
  [at(pb, boxesB[1].x2, boxesB[1].y2), at(pf, pf.cfg.x[1], pf.cfg.y[0])]
];
for (const [[x1, y1], [x2, y2]] of links) {
  ov.append("line").attr("x1", x1).attr("y1", y1).attr("x2", x2).attr("y2", y2)
    .attr("stroke", "#000").attr("stroke-width", 1.5).attr("stroke-dasharray", "9,7");
}
</script>
</body>
</html>
